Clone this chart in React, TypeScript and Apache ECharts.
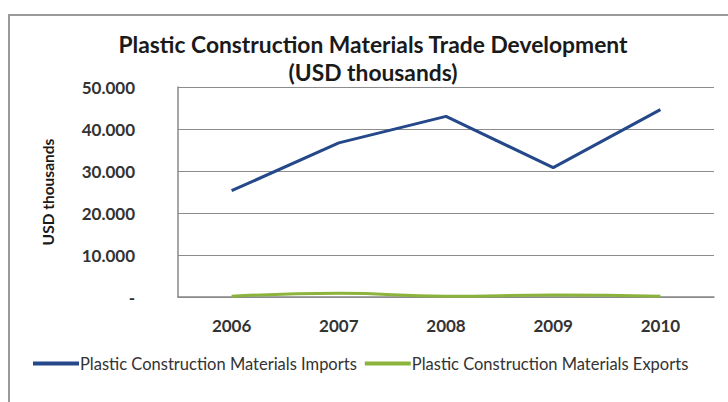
import React, { useEffect, useRef } from "react";
import * as echarts from "echarts";

const years = ["2006", "2007", "2008", "2009", "2010"];
const imports = [25300, 36700, 43000, 30800, 44600];
const exportsData = [150, 900, 200, 450, 150];
const yTicks = { min: 0, max: 50000, interval: 10000 };

export default function App() {
  const ref = useRef<HTMLDivElement>(null);
  useEffect(() => {
    if (!ref.current) return;
    const chart = echarts.init(ref.current, null, { renderer: "svg" });
    const font = "Lato, 'Open Sans', sans-serif";
    chart.setOption({
      animation: false,
      backgroundColor: "#ffffff",
      textStyle: { fontFamily: font },
      title: {
        text: "Plastic Construction Materials Trade Development\n(USD thousands)",
        left: 368,
        textAlign: "center",
        top: 25,
        textStyle: { fontFamily: font, fontSize: 22.8, fontWeight: "bold", color: "#1a1a1a", lineHeight: 28 },
      },
      graphic: [
        {
          type: "rect",
          shape: { x: 9, y: 15, width: 740, height: 420 },
          style: { fill: "none", stroke: "#9a9a9a", lineWidth: 2 },
          silent: true,
          z: -1,
        },
      ],
      legend: {
        left: 28,
        top: 350,
        itemWidth: 46,
        itemHeight: 4,
        itemGap: 8,
        icon: "rect",
        textStyle: { fontFamily: font, fontSize: 16.5, color: "#333", padding: [0, 0, 0, -4] },
        data: ["Plastic Construction Materials Imports", "Plastic Construction Materials Exports"],
      },
      grid: { left: 178, right: 14, top: 87, bottom: 105, containLabel: false },
      xAxis: {
        type: "category",
        data: years,
        boundaryGap: true,
        axisLine: { lineStyle: { color: "#888", width: 1.5 } },
        axisTick: { show: false },
        axisLabel: { margin: 20, fontFamily: font, fontSize: 17, fontWeight: "bold", color: "#333" },
      },
      yAxis: {
        type: "value",
        min: yTicks.min,
        max: yTicks.max,
        interval: yTicks.interval,
        name: "USD thousands",
        nameLocation: "middle",
        nameRotate: 90,
        nameGap: 122,
        nameTextStyle: { fontFamily: font, fontSize: 15.5, fontWeight: "bold", color: "#1a1a1a" },
        axisLine: { show: true, lineStyle: { color: "#888", width: 1.5 } },
        axisTick: { show: false },
        splitLine: { lineStyle: { color: "#8c8c8c", width: 1.2 } },
        axisLabel: {
          margin: 43,
          fontFamily: font,
          fontSize: 17,
          fontWeight: "bold",
          color: "#333",
          formatter: (v: number) => (v === 0 ? "-" : String(v / 1000) + ".000"),
        },
      },
      series: [
        {
          name: "Plastic Construction Materials Imports",
          type: "line",
          data: imports,
          showSymbol: false,
          symbol: "none",
          lineStyle: { color: "#24488a", width: 3 },
          itemStyle: { color: "#24488a" },
        },
        {
          name: "Plastic Construction Materials Exports",
          type: "line",
          data: exportsData,
          showSymbol: false,
          symbol: "none",
          smooth: true,
          lineStyle: { color: "#8cb43c", width: 3 },
          itemStyle: { color: "#8cb43c" },
        },
      ],
    });
    return () => chart.dispose();
  }, []);
  return <div ref={ref} style={{ width: 728, height: 402, position: "absolute", left: 0, top: 0 }} />;
}
